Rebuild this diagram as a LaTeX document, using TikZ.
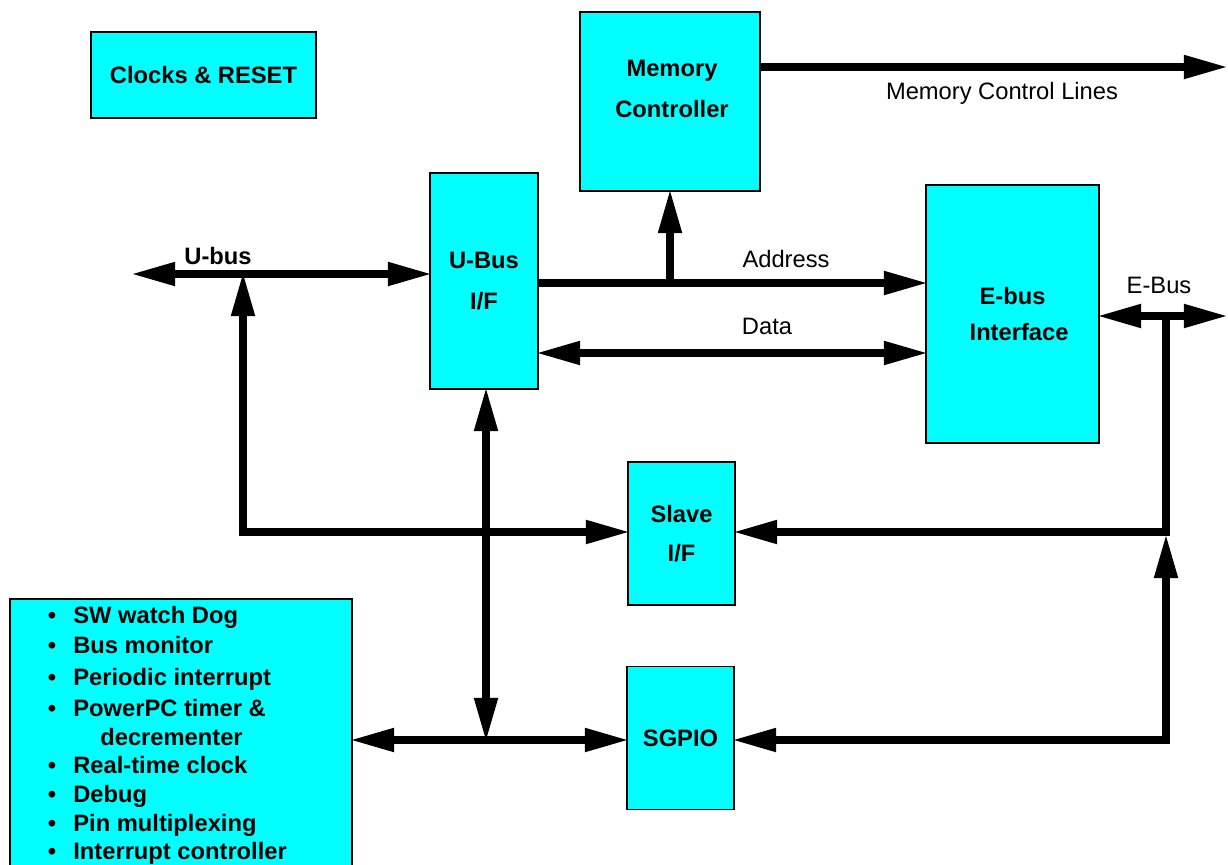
\documentclass[tikz,border=0pt]{standalone}
\usepackage{fontspec}
\setmainfont{Liberation Sans}
\usetikzlibrary{arrows.meta}
\definecolor{boxcyan}{RGB}{0,255,255}

\begin{document}
\begin{tikzpicture}[x=0.02cm, y=-0.02cm,
  blk/.style={draw, line width=1pt, fill=boxcyan, align=center, inner sep=0pt, outer sep=0pt,
    font=\fontsize{13.5}{22}\selectfont\bfseries},
  txt/.style={inner sep=0pt, font=\fontsize{13.5}{16}\selectfont},
  bftxt/.style={inner sep=0pt, align=center, font=\fontsize{13.5}{16}\selectfont\bfseries},
  bus/.style={line width=4pt},
  Big/.tip={Triangle[length=24pt 0, width=14pt 0, line width=0pt]}]
\useasboundingbox (0,0) rectangle (1228,865);

\node[blk, minimum width=4.5cm, minimum height=1.72cm] (clk) at (203.5,75) {Clocks \& RESET};
\node[blk, minimum width=3.6cm, minimum height=3.58cm] (memctl) at (670,101.5) {};
\node[bftxt, font=\fontsize{13.5}{23}\selectfont\bfseries] (memctl-lbl) at (672,89) {Memory\\Controller};
\node[blk, minimum width=2.16cm, minimum height=4.32cm, font=\fontsize{13.5}{23}\selectfont\bfseries] (ubus) at (484,281) {U-Bus\\I/F};
\node[blk, minimum width=3.46cm, minimum height=5.16cm, font=\fontsize{13.5}{20}\selectfont\bfseries] (ebus) at (1012.5,314) {E-bus\\\ \ Interface};
\node[blk, minimum width=2.14cm, minimum height=2.86cm] (slave) at (681.5,533.5) {Slave\\I/F};
\node[blk, minimum width=2.14cm, minimum height=2.86cm] (sgpio) at (680.5,738) {SGPIO};
\node[blk, minimum width=6.84cm, minimum height=5.52cm] (timers) at (181,737) {};

\foreach \n/\y/\t in {1/615/SW watch Dog, 2/645/Bus monitor, 3/677/Periodic interrupt,
  4/708/PowerPC timer \&, 6/765/Real-time clock, 7/794/Debug, 8/823/Pin multiplexing,
  9/851/Interrupt controller} {
  \node[bftxt, anchor=base] (dot\n) at (52,\y+8) {\textbullet};
  \node[bftxt, anchor=base west] (item\n) at (73,\y+8) {\t};
}
\node[bftxt, anchor=base west] (item5) at (100,745) {decrementer};

\coordinate (ubL) at (133,274);
\coordinate (ubJ) at (243,274);
\coordinate (ubC) at (243,532);
\coordinate (adr) at (670,283);
\coordinate (dat) at (700,353);
\coordinate (mcl) at (1226,67);
\coordinate (ebR) at (1226,316);
\coordinate (ebJ) at (1166,316);
\coordinate (ebC) at (1166,532);
\coordinate (sgC) at (1166,740);
\coordinate (sgT) at (1166,536);
\coordinate (tmJ) at (486,740);

\draw[bus, Big-Big] (ubL) -- (ubL -| ubus.west);
\draw[bus, Big-Big] (ubJ) -- (ubC) -- (ubC -| slave.west);
\draw[bus, -Big] (ubus.east |- adr) -- (ebus.west |- adr);
\draw[bus, -Big] (adr) -- (adr |- memctl.south);
\draw[bus, Big-Big] (ubus.east |- dat) -- (ebus.west |- dat);
\draw[bus, -Big] (memctl.east |- mcl) -- (mcl);
\draw[bus, Big-Big] (ebus.east |- ebR) -- (ebR);
\draw[bus, -Big] (ebJ) -- (ebC) -- (ebC -| slave.east);
\draw[bus, Big-Big] (sgpio.east |- sgC) -- (sgC) -- (sgT);
\draw[bus, Big-Big] (tmJ |- ubus.south) -- (tmJ);
\draw[bus, Big-Big] (timers.east |- tmJ) -- (sgpio.west |- tmJ);

\node[bftxt] (ubus-lbl) at (218,256) {U-bus};
\node[txt] (adr-lbl) at (786,259) {Address};
\node[txt] (dat-lbl) at (767,326) {Data};
\node[txt] (eb-lbl) at (1159,285) {E-Bus};
\node[txt] (mcl-lbl) at (1002,93) {Memory Control Lines};
\end{tikzpicture}
\end{document}
